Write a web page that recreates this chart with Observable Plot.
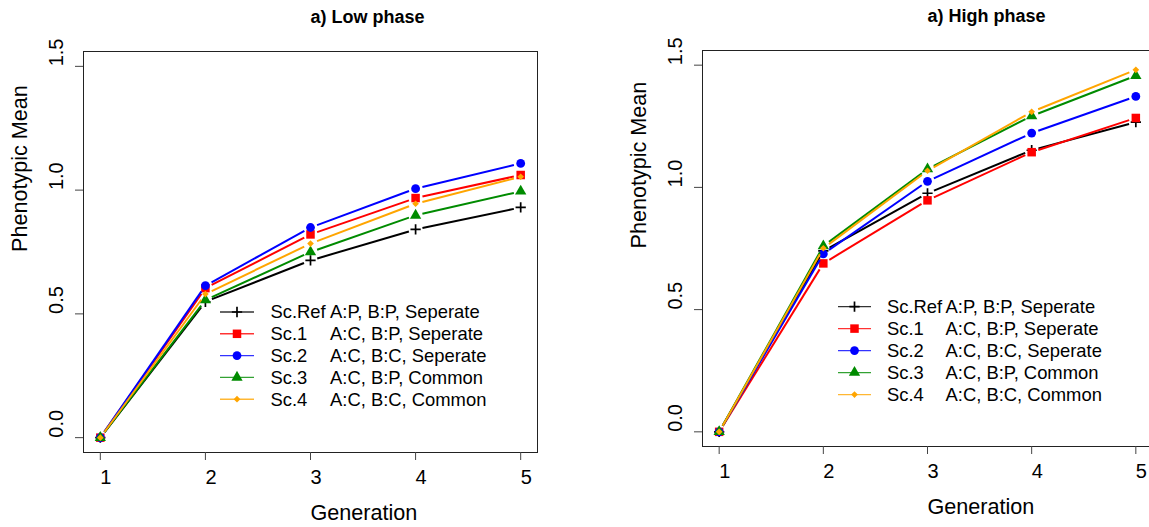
<!DOCTYPE html>
<html><head><meta charset="utf-8">
<script src="https://cdn.jsdelivr.net/npm/d3@7"></script>
<script src="https://cdn.jsdelivr.net/npm/@observablehq/plot@0.6"></script>
<style>
html,body{margin:0;padding:0;background:#fff;overflow:hidden;}
#wrap{position:relative;width:1149px;height:527px;overflow:hidden;background:#fff;}
#wrap > * {position:absolute;top:0;}
</style></head><body><div id="wrap"></div>
<script>
// ---------- data ----------
const generations = [1, 2, 3, 4, 5];
const xTicks = [1, 2, 3, 4, 5];
const yTicks = [0, 0.5, 1, 1.5];
const yTickLabels = ["0.0", "0.5", "1.0", "1.5"];
const scenarios = ["Sc.Ref", "Sc.1", "Sc.2", "Sc.3", "Sc.4"];
const descriptions = ["A:P, B:P, Seperate", "A:C, B:P, Seperate", "A:C, B:C, Seperate", "A:C, B:P, Common", "A:C, B:C, Common"];
const colors = ["#000000", "#FF0000", "#0000FF", "#008B00", "#FFA500"];
const symbols = ["plus", "square", "circle", "triangle", "diamond2"];

const lowRef = [0, 0.549, 0.716, 0.841, 0.930];
const lowSc1 = [0, 0.604, 0.821, 0.968, 1.061];
const lowSc2 = [0, 0.614, 0.849, 1.006, 1.108];
const lowSc3 = [0, 0.556, 0.750, 0.898, 0.995];
const lowSc4 = [0, 0.580, 0.784, 0.945, 1.054];

const highRef = [0, 0.740, 0.976, 1.152, 1.267];
const highSc1 = [0, 0.689, 0.947, 1.144, 1.284];
const highSc2 = [0, 0.728, 1.025, 1.222, 1.372];
const highSc3 = [0, 0.760, 1.075, 1.292, 1.457];
const highSc4 = [0, 0.751, 1.068, 1.309, 1.481];

const titles = ["a) Low phase", "a) High phase"];
const xLabel = "Generation";
const yLabel = "Phenotypic Mean";

// ---------- styling ----------
const FONT = "'Liberation Sans', Arial, Helvetica, sans-serif";
const symbolR = [3.4, 4.8, 4.4, 4.2, 3.0];

function rows(series) {
  return scenarios.flatMap((s, i) => generations.map((g, j) => ({scenario: s, gen: g, value: series[i][j]})));
}
function segs(series) {
  return scenarios.flatMap((s, i) => generations.slice(1).map((g, j) => ({
    scenario: s, g1: generations[j], v1: series[i][j], g2: g, v2: series[i][j + 1]
  })));
}

function panel({title, series, width, marginLeft, marginRight, marginTop, marginBottom}) {
  const pts = rows(series), sg = segs(series);
  const marks = [
    Plot.frame({stroke: "#222", strokeWidth: 1}),
    Plot.axisX(xTicks, {tickSize: 8, tickFormat: () => "", stroke: "#444", label: null}),
    Plot.axisY(yTicks, {tickSize: 8, tickFormat: () => "", stroke: "#444", label: null}),
    Plot.text(xTicks, {x: d => d, frameAnchor: "bottom", dy: 25, textAnchor: "start", lineAnchor: "middle", text: d => String(d), fontSize: 20, fill: "#000"}),
    Plot.text(yTicks, {y: d => d, frameAnchor: "left", dx: -26.5, rotate: -90, textAnchor: "start", lineAnchor: "middle", text: (d, i) => yTickLabels[i], fontSize: 20, fill: "#000"}),
    Plot.text([xLabel], {frameAnchor: "bottom", dy: 61, textAnchor: "start", lineAnchor: "middle", text: d => d, fontSize: 21.6, fill: "#000"}),
    Plot.text([yLabel], {frameAnchor: "left", dx: -63, rotate: -90, textAnchor: "start", lineAnchor: "middle", text: d => d, fontSize: 21.6, fill: "#000"}),
    Plot.text([title], {frameAnchor: "top", dy: -34, textAnchor: "start", lineAnchor: "middle", text: d => d, fontSize: 18, fontWeight: "bold", fill: "#000"})
  ];
  scenarios.forEach((s, i) => {
    marks.push(Plot.arrow(sg.filter(d => d.scenario === s), {
      x1: "g1", y1: "v1", x2: "g2", y2: "v2", stroke: "scenario",
      strokeWidth: 2, insetStart: 7, insetEnd: 7, headLength: 0, bend: 0, strokeLinecap: "butt"
    }));
    const p = pts.filter(d => d.scenario === s);
    if (symbols[i] === "plus") {
      marks.push(Plot.dot(p, {x: "gen", y: "value", symbol: "plus", r: symbolR[i], stroke: "scenario", strokeWidth: 1.7, fill: "none"}));
    } else {
      marks.push(Plot.dot(p, {x: "gen", y: "value", symbol: symbols[i], r: symbolR[i], fill: "scenario", stroke: "none"}));
    }
  });
  return Plot.plot({
    width, height: 527, marginLeft, marginRight, marginTop, marginBottom,
    x: {domain: [0.84, 5.16]},
    y: {domain: [-0.06, 1.56]},
    color: {domain: scenarios, range: colors},
    style: {fontFamily: FONT, background: "transparent", overflow: "visible"},
    marks
  });
}

function legend({top, lineX1, lineX2, textX, descX, rowGap}) {
  const svg = d3.create("svg").attr("width", 1149).attr("height", 527)
    .style("left", "0px").style("top", "0px").style("pointer-events", "none")
    .style("font-family", FONT);
  const symMap = {plus: d3.symbolPlus, square: d3.symbolSquare, circle: d3.symbolCircle, triangle: d3.symbolTriangle, diamond2: d3.symbolDiamond2};
  scenarios.forEach((s, i) => {
    const y = top + i * rowGap;
    const g = svg.append("g");
    g.append("line").attr("x1", lineX1).attr("x2", lineX2).attr("y1", y).attr("y2", y)
      .attr("stroke", colors[i]).attr("stroke-width", 1.4).attr("stroke-opacity", 0.8);
    const path = d3.symbol(symMap[symbols[i]], Math.PI * symbolR[i] * symbolR[i])();
    const sp = g.append("path").attr("d", path).attr("transform", `translate(${(lineX1 + lineX2) / 2},${y})`);
    if (symbols[i] === "plus") sp.attr("fill", "none").attr("stroke", colors[i]).attr("stroke-width", 1.7);
    else sp.attr("fill", colors[i]);
    g.append("text").attr("x", textX).attr("y", y).attr("dy", "0.35em").attr("font-size", 18.4).text(s);
    g.append("text").attr("x", descX).attr("y", y).attr("dy", "0.35em").attr("font-size", 18.4).text(descriptions[i]);
  });
  return svg.node();
}

const wrap = document.getElementById("wrap");
const left = panel({title: titles[0], series: [lowRef, lowSc1, lowSc2, lowSc3, lowSc4], width: 575, marginLeft: 83, marginRight: 38, marginTop: 51, marginBottom: 75});
left.style.left = "0px";
wrap.appendChild(left);
const right = panel({title: titles[1], series: [highRef, highSc1, highSc2, highSc3, highSc4], width: 577, marginLeft: 127, marginRight: 0, marginTop: 50, marginBottom: 81});
right.style.left = "575px";
wrap.appendChild(right);
wrap.appendChild(legend({top: 312, lineX1: 220, lineX2: 254, textX: 270.5, descX: 330, rowGap: 21.8}));
wrap.appendChild(legend({top: 306.6, lineX1: 838, lineX2: 871, textX: 887, descX: 945.5, rowGap: 22}));
</script></body></html>
